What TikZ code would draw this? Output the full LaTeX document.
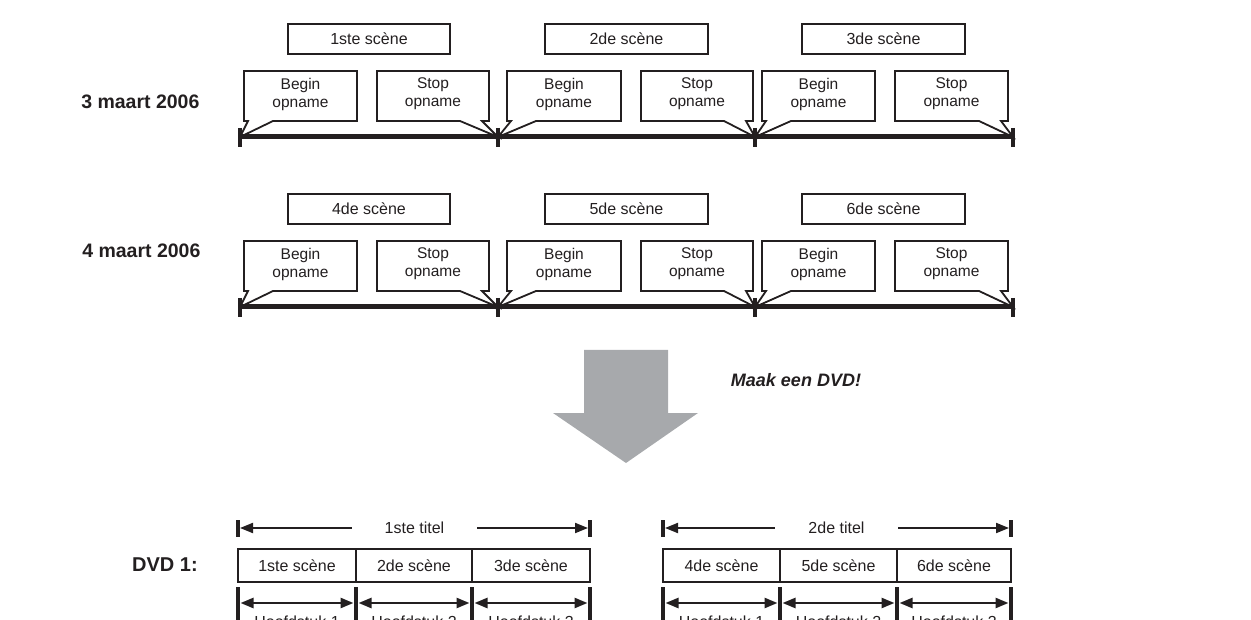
\documentclass[tikz,border=0pt]{standalone}
\usepackage{fontspec}
\setmainfont{Liberation Sans}
\usetikzlibrary{arrows.meta}
\definecolor{arrowgray}{HTML}{A7A9AC}
\definecolor{ink}{HTML}{231F20}
\begin{document}
\begin{tikzpicture}[x=1pt,y=-1pt,
  every node/.style={text=ink},
  box/.style={draw=ink,line width=1.8pt,minimum height=30pt,inner sep=0pt,font=\fontsize{16}{18}\selectfont},
  dbox/.style={draw=ink,line width=1.8pt,minimum height=33pt,inner sep=0pt,font=\fontsize{16}{18}\selectfont},
  callout/.style={draw=ink,line width=1.8pt,line join=miter,fill=white},
  ctext/.style={align=center,font=\fontsize{15.5}{18}\selectfont,inner sep=0pt},
  tline/.style={draw=ink,line width=5pt},
  tickmark/.style={draw=ink,line width=4.5pt},
  datelbl/.style={font=\bfseries\fontsize{19.5}{23}\selectfont,anchor=east},
  ttext/.style={font=\fontsize{16}{18}\selectfont,inner sep=0pt,minimum height=16pt},
  htext/.style={font=\fontsize{16}{18}\selectfont,anchor=base},
  tarrow/.style={draw=ink,line width=2pt,-{Triangle[length=13pt,width=10pt]},shorten >=2pt},
  carrow/.style={draw=ink,line width=2.5pt,{Triangle[length=13pt,width=10pt]}-{Triangle[length=13pt,width=10pt]},shorten >=2.5pt,shorten <=2.5pt},
  ]
\useasboundingbox (0,0) rectangle (1251,620);
\clip (0,0) rectangle (1251,620);

% ---------- two recording days ----------
\foreach \r/\d/\lx/\ly/\na/\nb/\nc in {0/3/203/102/1ste/2de/3de, 170/4/204/251/4de/5de/6de}{
  % date label
  \node[datelbl] (date\d) at (\lx,\ly) {\d\ maart 2006};
  % scene boxes
  \node[box,minimum width=162pt] (sc\d-1) at (369,39+\r) {\na\ scène};
  \node[box,minimum width=163pt] (sc\d-2) at (626.5,39+\r) {\nb\ scène};
  \node[box,minimum width=163pt] (sc\d-3) at (883.5,39+\r) {\nc\ scène};
  % tick coordinates on the time line
  \coordinate (t\d-1) at (240,137+\r);
  \coordinate (t\d-2) at (498,137+\r);
  \coordinate (t\d-3) at (755,137+\r);
  \coordinate (t\d-4) at (1013,137+\r);
  % begin callouts
  \foreach \L/\R/\k in {244/357/1,507/621/2,762/875/3}{
    \draw[callout] (\L,71+\r) -- (\R,71+\r) -- (\R,121+\r) -- (\L+29,121+\r)
      -- (t\d-\k) -- (\L+4,121+\r) -- (\L,121+\r) -- cycle;
    \node[ctext] (bg\d-\k) at ({(\L+\R)/2},94+\r) {Begin\\opname};
  }
  % stop callouts
  \foreach \L/\R/\k in {377/489/2,641/753/3,895/1008/4}{
    \draw[callout] (\L,71+\r) -- (\R,71+\r) -- (\R,121+\r) -- (\R-7,121+\r)
      -- (t\d-\k) -- (\R-29,121+\r) -- (\L,121+\r) -- cycle;
    \node[ctext] (st\d-\k) at ({(\L+\R)/2},94+\r) {Stop\\opname};
  }
  % time line and ticks
  \draw[tline] (t\d-1) -- (t\d-4);
  \foreach \k in {1,2,3,4}{
    \draw[tickmark] ([yshift=9pt]t\d-\k) -- ([yshift=-10pt]t\d-\k);
  }
}

% ---------- big arrow ----------
\fill[arrowgray] (584,350) -- (668,350) -- (668,413) -- (698,413) -- (626,463)
  -- (553,413) -- (584,413) -- cycle;
\node[font=\bfseries\itshape\fontsize{18}{22}\selectfont] (make) at (796,380) {Maak een DVD!};

% ---------- DVD ----------
\node[font=\bfseries\fontsize{20}{24}\selectfont] (dvd) at (165,565) {DVD 1:};

% title rows
\foreach \g/\xl/\xr/\xc/\w/\t in {1/238/590/414.5/125/1ste, 2/663/1011/836.5/123/2de}{
  \coordinate (g\g l) at (\xl,528);
  \coordinate (g\g r) at (\xr,528);
  \draw[tickmark] ([yshift=8pt]g\g l) -- ([yshift=-9pt]g\g l);
  \draw[tickmark] ([yshift=8pt]g\g r) -- ([yshift=-9pt]g\g r);
  \node[ttext,minimum width=\w pt] (tt\g) at (\xc,528) {\t\ titel};
  \draw[tarrow] (tt\g.west) -- (g\g l);
  \draw[tarrow] (tt\g.east) -- (g\g r);
}

% scene row
\foreach \g/\a/\b/\c/\e/\na/\nb/\nc in {1/238/356/472/590/1ste/2de/3de, 2/663/780/897/1011/4de/5de/6de}{
  \node[dbox,minimum width={(\b-\a)*1pt}] (ds\g-1) at ({(\a+\b)/2},565.5) {\na\ scène};
  \node[dbox,minimum width={(\c-\b)*1pt}] (ds\g-2) at ({(\b+\c)/2},565.5) {\nb\ scène};
  \node[dbox,minimum width={(\e-\c)*1pt}] (ds\g-3) at ({(\c+\e)/2},565.5) {\nc\ scène};
  % chapter row
  \coordinate (c\g-0) at (\a,603);
  \coordinate (c\g-1) at (\b,603);
  \coordinate (c\g-2) at (\c,603);
  \coordinate (c\g-3) at (\e,603);
  \foreach \k in {0,1,2,3}{
    \draw[tickmark] ([yshift=16pt]c\g-\k) -- ([yshift=-25pt]c\g-\k);
  }
  \draw[carrow] (c\g-0) -- (c\g-1);
  \draw[carrow] (c\g-1) -- (c\g-2);
  \draw[carrow] (c\g-2) -- (c\g-3);
  \node[htext] (h\g-1) at ({(\a+\b)/2},627) {Hoofdstuk 1};
  \node[htext] (h\g-2) at ({(\b+\c)/2},627) {Hoofdstuk 2};
  \node[htext] (h\g-3) at ({(\c+\e)/2},627) {Hoofdstuk 3};
}
\end{tikzpicture}
\end{document}
